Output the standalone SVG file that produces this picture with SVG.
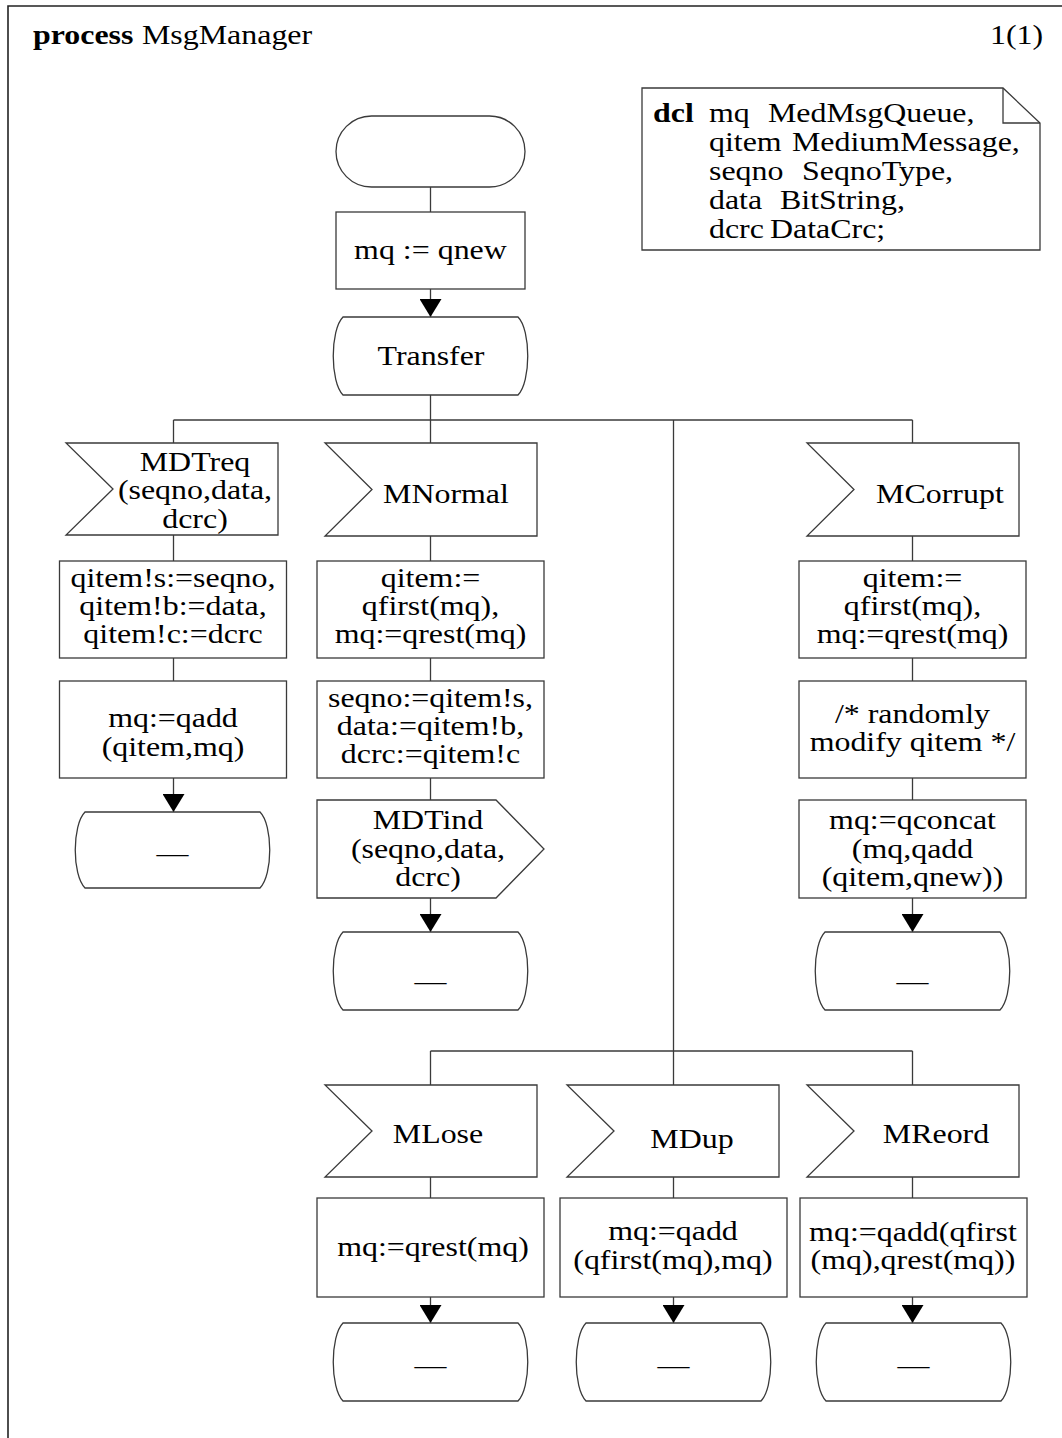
<svg xmlns="http://www.w3.org/2000/svg" width="1062" height="1438" viewBox="0 0 1062 1438">
  <style>
    .t { font-family: "Liberation Serif", "Times New Roman", serif; font-size: 28px; fill: #000; text-anchor: middle; transform-box: fill-box; transform-origin: center; transform: scaleX(1.14); }
    .l { text-anchor: start; transform-origin: 0% 50%; }
    .b { font-weight: bold; }
    .shape { fill: #fff; stroke: #3a3a3a; stroke-width: 1.3; }
    .conn { fill: none; stroke: #3a3a3a; stroke-width: 1.3; }
    .frame { fill: none; stroke: #222; stroke-width: 1.6; }
  </style>
  <defs>
    <marker id="arrow" viewBox="0 0 18 22" markerWidth="18" markerHeight="22" refX="18" refY="11" orient="auto" markerUnits="userSpaceOnUse">
      <path d="M0,0 L18,11 L0,22 Z" fill="#000"/>
    </marker>
  </defs>
  <rect width="1062" height="1438" fill="#fff"/>

  <!-- page frame and heading -->
  <path class="frame" d="M8,1440 V6 H1064"/>
  <text class="t l b" x="33" y="44">process</text>
  <text class="t l" x="142" y="44">MsgManager</text>
  <text class="t l" x="990" y="44">1(1)</text>

  <!-- declarations text symbol -->
  <g id="dcl">
    <path class="shape" d="M642,88 H1003 L1040,123 V250 H642 Z"/>
    <path class="conn" d="M1003,88 V123 H1040"/>
    <text class="t l b" x="653" y="122">dcl</text>
    <text class="t l" x="709" y="122">mq</text>
    <text class="t l" x="768" y="122">MedMsgQueue,</text>
    <text class="t l" x="709" y="151">qitem</text>
    <text class="t l" x="792" y="151">MediumMessage,</text>
    <text class="t l" x="709" y="180">seqno</text>
    <text class="t l" x="802" y="180">SeqnoType,</text>
    <text class="t l" x="709" y="209">data</text>
    <text class="t l" x="780" y="209">BitString,</text>
    <text class="t l" x="709" y="238">dcrc</text>
    <text class="t l" x="770" y="238">DataCrc;</text>
  </g>

  <!-- connectors -->
  <g id="connectors">
    <path class="conn" d="M430.5,187 V212"/>
    <path class="conn" d="M430.5,289 V317" marker-end="url(#arrow)"/>
    <path class="conn" d="M430.5,395 V420"/>
    <path class="conn" d="M173.5,420 H912.5"/>
    <path class="conn" d="M173.5,420 V443"/>
    <path class="conn" d="M430.5,420 V443"/>
    <path class="conn" d="M912.5,420 V443"/>
    <path class="conn" d="M673.5,420 V1051"/>
    <path class="conn" d="M430.5,1051 H912.5"/>
    <path class="conn" d="M430.5,1051 V1085"/>
    <path class="conn" d="M673.5,1051 V1085"/>
    <path class="conn" d="M912.5,1051 V1085"/>
    <!-- MDTreq branch -->
    <path class="conn" d="M173.5,535 V561"/>
    <path class="conn" d="M173.5,658 V681"/>
    <path class="conn" d="M173.5,778 V812" marker-end="url(#arrow)"/>
    <!-- MNormal branch -->
    <path class="conn" d="M430.5,536 V561"/>
    <path class="conn" d="M430.5,658 V681"/>
    <path class="conn" d="M430.5,778 V800"/>
    <path class="conn" d="M430.5,898 V932" marker-end="url(#arrow)"/>
    <!-- MCorrupt branch -->
    <path class="conn" d="M912.5,536 V561"/>
    <path class="conn" d="M912.5,658 V681"/>
    <path class="conn" d="M912.5,778 V800"/>
    <path class="conn" d="M912.5,898 V932" marker-end="url(#arrow)"/>
    <!-- lower branches -->
    <path class="conn" d="M430.5,1177 V1198"/>
    <path class="conn" d="M430.5,1297 V1323" marker-end="url(#arrow)"/>
    <path class="conn" d="M673.5,1177 V1198"/>
    <path class="conn" d="M673.5,1297 V1323" marker-end="url(#arrow)"/>
    <path class="conn" d="M912.5,1177 V1198"/>
    <path class="conn" d="M912.5,1297 V1323" marker-end="url(#arrow)"/>
  </g>

  <!-- start -->
  <g id="start">
    <rect class="shape" x="336" y="116" width="189" height="71" rx="35.5" ry="35.5"/>
  </g>
  <g id="init">
    <rect class="shape" x="336" y="212" width="189" height="77"/>
    <text class="t" x="430.5" y="259">mq := qnew</text>
  </g>
  <g id="state-transfer">
    <path class="shape" d="M343,317 H518 C531,330 531,382 518,395 H343 C330,382 330,330 343,317 Z"/>
    <text class="t" x="431" y="365">Transfer</text>
  </g>

  <!-- MDTreq branch -->
  <g id="in-mdtreq">
    <path class="shape" d="M66,443 H278 V535 H66 L113,489 Z"/>
    <text class="t" x="195" y="471">MDTreq<tspan x="195" y="499.5">(seqno,data,</tspan><tspan x="195" y="528">dcrc)</tspan></text>
  </g>
  <g id="task-store">
    <rect class="shape" x="59.5" y="561" width="227" height="97"/>
    <text class="t" x="173" y="587">qitem!s:=seqno,<tspan x="173" y="615">qitem!b:=data,</tspan><tspan x="173" y="643">qitem!c:=dcrc</tspan></text>
  </g>
  <g id="task-enqueue">
    <rect class="shape" x="59.5" y="681" width="227" height="97"/>
    <text class="t" x="173" y="727">mq:=qadd<tspan x="173" y="756">(qitem,mq)</tspan></text>
  </g>
  <g id="next-mdtreq">
    <path class="shape" d="M85,812 H260 C273,825 273,875 260,888 H85 C72,875 72,825 85,812 Z"/>
    <text class="t" x="172.5" y="862">—</text>
  </g>

  <!-- MNormal branch -->
  <g id="in-mnormal">
    <path class="shape" d="M325,443 H537 V536 H325 L372,489.5 Z"/>
    <text class="t" x="446" y="503">MNormal</text>
  </g>
  <g id="task-dequeue">
    <rect class="shape" x="317" y="561" width="227" height="97"/>
    <text class="t" x="430.5" y="587">qitem:=<tspan x="430.5" y="615">qfirst(mq),</tspan><tspan x="430.5" y="643">mq:=qrest(mq)</tspan></text>
  </g>
  <g id="task-unpack">
    <rect class="shape" x="317" y="681" width="227" height="97"/>
    <text class="t" x="430.5" y="707">seqno:=qitem!s,<tspan x="430.5" y="735">data:=qitem!b,</tspan><tspan x="430.5" y="763">dcrc:=qitem!c</tspan></text>
  </g>
  <g id="out-mdtind">
    <path class="shape" d="M317,800 H496 L544,849 L496,898 H317 Z"/>
    <text class="t" x="428" y="829">MDTind<tspan x="428" y="858">(seqno,data,</tspan><tspan x="428" y="886">dcrc)</tspan></text>
  </g>
  <g id="next-mnormal">
    <path class="shape" d="M343,932 H518 C531,945 531,997 518,1010 H343 C330,997 330,945 343,932 Z"/>
    <text class="t" x="430.5" y="990">—</text>
  </g>

  <!-- MCorrupt branch -->
  <g id="in-mcorrupt">
    <path class="shape" d="M807,443 H1019 V536 H807 L854,489.5 Z"/>
    <text class="t" x="940" y="503">MCorrupt</text>
  </g>
  <g id="task-dequeue2">
    <rect class="shape" x="799" y="561" width="227" height="97"/>
    <text class="t" x="912.5" y="587">qitem:=<tspan x="912.5" y="615">qfirst(mq),</tspan><tspan x="912.5" y="643">mq:=qrest(mq)</tspan></text>
  </g>
  <g id="task-modify">
    <rect class="shape" x="799" y="681" width="227" height="97"/>
    <text class="t" x="912.5" y="723">/* randomly<tspan x="912.5" y="751">modify qitem */</tspan></text>
  </g>
  <g id="task-requeue">
    <rect class="shape" x="799" y="800" width="227" height="98"/>
    <text class="t" x="912.5" y="829">mq:=qconcat<tspan x="912.5" y="858">(mq,qadd</tspan><tspan x="912.5" y="886">(qitem,qnew))</tspan></text>
  </g>
  <g id="next-mcorrupt">
    <path class="shape" d="M825,932 H1000 C1013,945 1013,997 1000,1010 H825 C812,997 812,945 825,932 Z"/>
    <text class="t" x="912.5" y="990">—</text>
  </g>

  <!-- MLose branch -->
  <g id="in-mlose">
    <path class="shape" d="M325,1085 H537 V1177 H325 L372,1131 Z"/>
    <text class="t" x="438" y="1143">MLose</text>
  </g>
  <g id="task-drop">
    <rect class="shape" x="317" y="1198" width="227" height="99"/>
    <text class="t" x="433" y="1256">mq:=qrest(mq)</text>
  </g>
  <g id="next-mlose">
    <path class="shape" d="M343,1323 H518 C531,1336 531,1388 518,1401 H343 C330,1388 330,1336 343,1323 Z"/>
    <text class="t" x="430.5" y="1374">—</text>
  </g>

  <!-- MDup branch -->
  <g id="in-mdup">
    <path class="shape" d="M567,1085 H779 V1177 H567 L614,1131 Z"/>
    <text class="t" x="692" y="1148">MDup</text>
  </g>
  <g id="task-dup">
    <rect class="shape" x="560" y="1198" width="227" height="99"/>
    <text class="t" x="673" y="1240">mq:=qadd<tspan x="673" y="1269">(qfirst(mq),mq)</tspan></text>
  </g>
  <g id="next-mdup">
    <path class="shape" d="M586,1323 H761 C774,1336 774,1388 761,1401 H586 C573,1388 573,1336 586,1323 Z"/>
    <text class="t" x="673.5" y="1374">—</text>
  </g>

  <!-- MReord branch -->
  <g id="in-mreord">
    <path class="shape" d="M807,1085 H1019 V1177 H807 L854,1131 Z"/>
    <text class="t" x="936" y="1143">MReord</text>
  </g>
  <g id="task-reorder">
    <rect class="shape" x="800" y="1198" width="227" height="99"/>
    <text class="t" x="913" y="1241">mq:=qadd(qfirst<tspan x="913" y="1269">(mq),qrest(mq))</tspan></text>
  </g>
  <g id="next-mreord">
    <path class="shape" d="M826,1323 H1001 C1014,1336 1014,1388 1001,1401 H826 C813,1388 813,1336 826,1323 Z"/>
    <text class="t" x="913.5" y="1374">—</text>
  </g>
</svg>
